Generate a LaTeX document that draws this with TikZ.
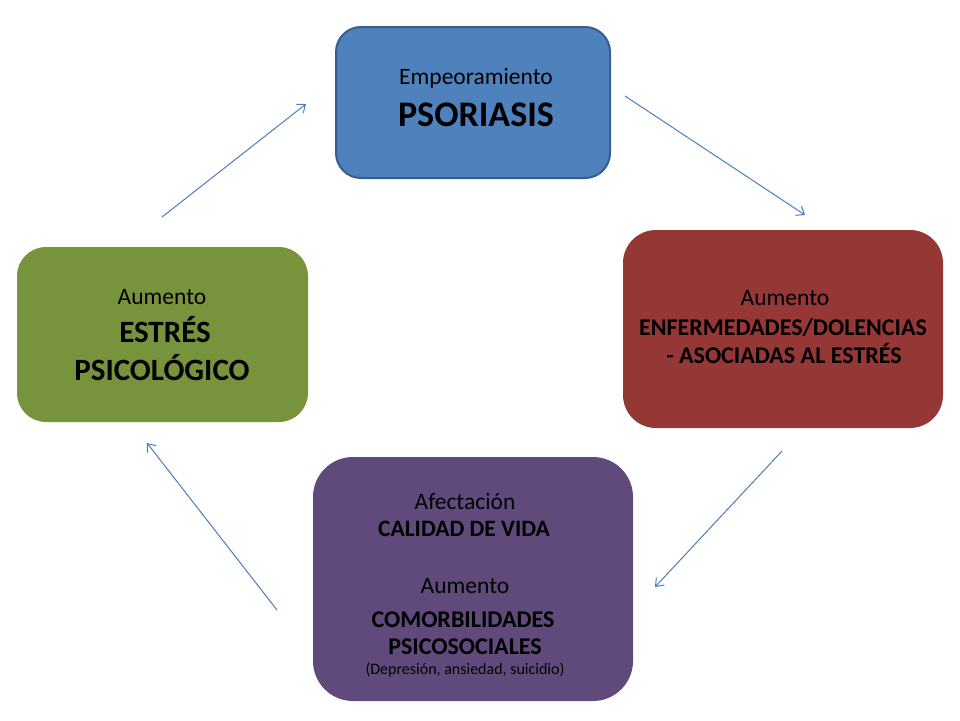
\documentclass[tikz,border=0pt]{standalone}
\usepackage{fontspec}
\setmainfont{Carlito}
\usepackage{tikz}
\usetikzlibrary{arrows.meta}
\definecolor{psoblue}{HTML}{4F81BD}
\definecolor{psoline}{HTML}{385D8A}
\definecolor{enfred}{HTML}{953735}
\definecolor{calpurple}{HTML}{604A7B}
\definecolor{estgreen}{HTML}{77933C}
\definecolor{arrowblue}{HTML}{4A7EBB}
\begin{document}
\begin{tikzpicture}[x=1pt,y=-1pt,
  box/.style={inner sep=0pt},
  line/.style={anchor=base, inner sep=0pt, text=black},
  small/.style={line, font=\fontsize{23.5}{28}\selectfont},
  tiny/.style={line, font=\fontsize{16}{19}\selectfont},
  big/.style={line, font=\fontsize{#1}{#1}\selectfont\bfseries},
  link/.style={arrowblue, line width=1pt, -{Straight Barb[length=7pt,width=11pt]}}]

  \useasboundingbox (0,0) rectangle (960,720);

  % Boxes
  \node[box, fill=psoblue, draw=psoline, line width=2pt, rounded corners=25pt,
        minimum width=274pt, minimum height=151pt] (pso) at (473,102.5) {};
  \node[box, fill=enfred, rounded corners=33pt,
        minimum width=320pt, minimum height=198pt] (enf) at (783,329) {};
  \node[box, fill=calpurple, rounded corners=40pt,
        minimum width=320pt, minimum height=244pt] (cal) at (473,579) {};
  \node[box, fill=estgreen, rounded corners=29pt,
        minimum width=291pt, minimum height=175pt] (est) at (162.5,334.5) {};

  % Texts
  \node[small] (psoA) at (476,84) {Empeoramiento};
  \node[big=36] (psoB) at (476,126) {PSORIASIS};

  \node[small] (enfA) at (785,305) {Aumento};
  \node[big=24] (enfB) at (783,335) {ENFERMEDADES/DOLENCIAS};
  \node[big=24] (enfC) at (784,363) {- ASOCIADAS AL ESTRÉS};

  \node[small] (calA) at (465,509) {Afectación};
  \node[big=23.5] (calB) at (464,536) {CALIDAD DE VIDA};
  \node[small] (calC) at (465,593) {Aumento};
  \node[big=24] (calD) at (463,627) {COMORBILIDADES};
  \node[big=24] (calE) at (465,654) {PSICOSOCIALES};
  \node[tiny] (calF) at (465,674) {(Depresión, ansiedad, suicidio)};

  \node[small] (estA) at (162,304) {Aumento};
  \node[big=31] (estB) at (165,342) {ESTRÉS};
  \node[big=31] (estC) at (162,380) {PSICOLÓGICO};

  % Arrow ends
  \coordinate (a1) at (625,96);   \coordinate (b1) at (805,215);
  \coordinate (a2) at (782,451);  \coordinate (b2) at (655,587);
  \coordinate (a3) at (277,610);  \coordinate (b3) at (147,443);
  \coordinate (a4) at (162,217);  \coordinate (b4) at (306,104);

  % Arrows
  \draw[link] (a1) -- (b1);
  \draw[link] (a2) -- (b2);
  \draw[link] (a3) -- (b3);
  \draw[link] (a4) -- (b4);

\end{tikzpicture}
\end{document}
